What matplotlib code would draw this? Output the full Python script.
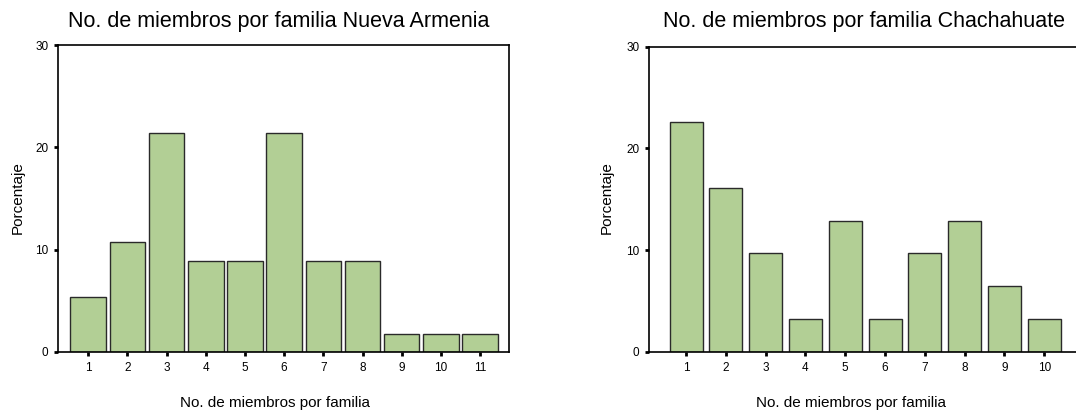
import matplotlib
matplotlib.use("Agg")
import matplotlib.pyplot as plt

plt.rcParams['font.family'] = ['Liberation Sans', 'DejaVu Sans']

# Nueva Armenia
na_members = [1, 2, 3, 4, 5, 6, 7, 8, 9, 10, 11]
na_pct = [5.36, 10.71, 21.43, 8.93, 8.93, 21.43, 8.93, 8.93, 1.79, 1.79, 1.79]

# Chachahuate
ch_members = [1, 2, 3, 4, 5, 6, 7, 8, 9, 10]
ch_pct = [22.58, 16.13, 9.68, 3.23, 12.90, 3.23, 9.68, 12.90, 6.45, 3.23]

titles = ["No. de miembros por familia Nueva Armenia",
          "No. de miembros por familia Chachahuate"]
xlabel = "No. de miembros por familia"
ylabel = "Porcentaje"
yticks = [0, 10, 20, 30]

W, H = 1076, 413
fig = plt.figure(figsize=(W / 100, H / 100), dpi=100)

bar_color = '#b2cf95'
edge_color = '#2a2a2a'


def px_axes(left, top, right, bottom):
    return fig.add_axes([left / W, (H - bottom) / H, (right - left) / W, (bottom - top) / H])


def draw(ax, members, pct, width, xlim, title, title_x, ylab_x, xlab_x):
    ax.bar(members, pct, width=width, color=bar_color, edgecolor=edge_color, linewidth=1.0)
    ax.set_xlim(*xlim)
    ax.set_ylim(0, 30)
    ax.set_yticks(yticks)
    ax.set_xticks(members)
    ax.tick_params(axis='both', direction='out', length=3, width=2, labelsize=8.5, pad=4)
    for s in ax.spines.values():
        s.set_linewidth(1.2)
    fig.text(title_x / W, 1 - 27 / H, title, ha='center', va='baseline', fontsize=15.5)
    fig.text(xlab_x / W, 1 - 403 / H, xlabel, ha='center', va='center', fontsize=11)
    fig.text(ylab_x / W, 1 - 198 / H, ylabel, ha='center', va='center', rotation=90, fontsize=11)


ax1 = px_axes(58.3, 45, 509, 352)
draw(ax1, na_members, na_pct, 0.91, (0.234, 11.74), titles[0], 278.3, 17.5, 275)

ax2 = px_axes(649, 46.5, 1100, 352)
draw(ax2, ch_members, ch_pct, 0.83, (0.07, 11.4), titles[1], 864, 607, 851)

fig.savefig("out.png", dpi=100)
